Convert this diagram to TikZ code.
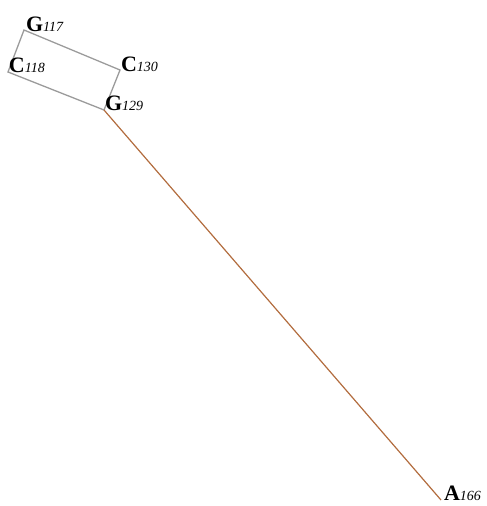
\documentclass[tikz,border=0pt]{standalone}
\usepackage{fontspec}
\setmainfont{Liberation Serif}
\definecolor{boxgray}{RGB}{155,155,155}
\definecolor{rustline}{RGB}{178,108,62}
\newcommand{\reslab}[2]{{\fontsize{22}{22}\selectfont\bfseries #1}{\fontsize{14}{14}\selectfont\itshape #2}}
\begin{document}
\begin{tikzpicture}[x=1pt,y=-1pt,
  lab/.style={anchor=base west,inner sep=0pt,outer sep=0pt},
  boxline/.style={draw=boxgray,line width=1.3pt},
  chain/.style={draw=rustline,line width=1.2pt}]
\useasboundingbox (0,0) rectangle (487,506);
\coordinate (g117) at (24,30);
\coordinate (c118) at (8,72);
\coordinate (g129) at (104,110);
\coordinate (c130) at (120,70);
\coordinate (a166) at (441,500);
\draw[boxline] (g117) -- (c118) -- (g129) -- (c130) -- cycle;
\draw[chain] (g129) -- (a166);
\node[lab] (lg117) at (26,31) {\reslab{G}{117}};
\node[lab] (lc118) at (9,72) {\reslab{C}{118}};
\node[lab] (lc130) at (121,71) {\reslab{C}{130}};
\node[lab] (lg129) at (105,110) {\reslab{G}{129}};
\node[lab] (la166) at (444,500) {\reslab{A}{166}};
\end{tikzpicture}
\end{document}
